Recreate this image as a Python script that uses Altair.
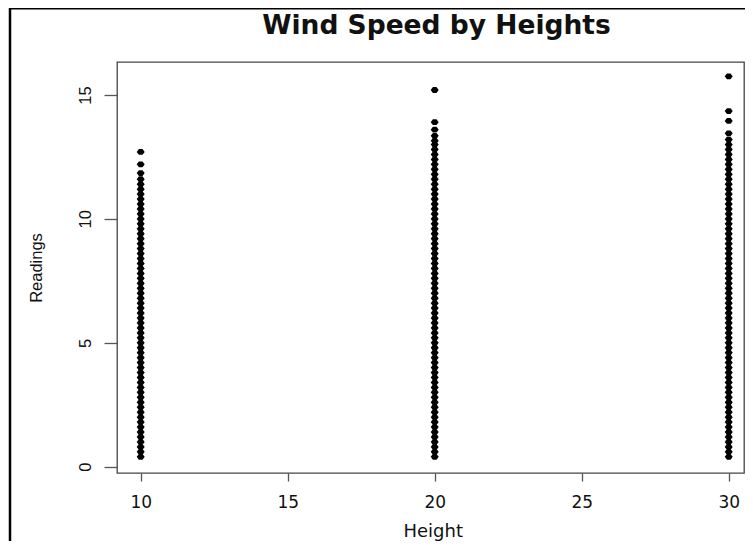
import altair as alt
import pandas as pd

# Wind speed readings, one list per height
readings_10 = [0.4, 0.6, 0.8, 1.0, 1.2, 1.4, 1.6, 1.8, 2.0, 2.2, 2.4, 2.6, 2.8, 3.0,
               3.2, 3.4, 3.6, 3.8, 4.0, 4.2, 4.4, 4.6, 4.8, 5.0, 5.2, 5.4, 5.6, 5.8,
               6.0, 6.2, 6.4, 6.6, 6.8, 7.0, 7.2, 7.4, 7.6, 7.8, 8.0, 8.2, 8.4, 8.6,
               8.8, 9.0, 9.2, 9.4, 9.6, 9.8, 10.0, 10.2, 10.4, 10.6, 10.8, 11.0,
               11.2, 11.4, 11.6, 11.85, 12.2, 12.7]
readings_20 = [0.4, 0.6, 0.8, 1.0, 1.2, 1.4, 1.6, 1.8, 2.0, 2.2, 2.4, 2.6, 2.8, 3.0,
               3.2, 3.4, 3.6, 3.8, 4.0, 4.2, 4.4, 4.6, 4.8, 5.0, 5.2, 5.4, 5.6, 5.8,
               6.0, 6.2, 6.4, 6.6, 6.8, 7.0, 7.2, 7.4, 7.6, 7.8, 8.0, 8.2, 8.4, 8.6,
               8.8, 9.0, 9.2, 9.4, 9.6, 9.8, 10.0, 10.2, 10.4, 10.6, 10.8, 11.0,
               11.2, 11.4, 11.6, 11.8, 12.0, 12.2, 12.4, 12.6, 12.8, 13.0, 13.15,
               13.35, 13.6, 13.9, 15.2]
readings_30 = [0.4, 0.6, 0.8, 1.0, 1.2, 1.4, 1.6, 1.8, 2.0, 2.2, 2.4, 2.6, 2.8, 3.0,
               3.2, 3.4, 3.6, 3.8, 4.0, 4.2, 4.4, 4.6, 4.8, 5.0, 5.2, 5.4, 5.6, 5.8,
               6.0, 6.2, 6.4, 6.6, 6.8, 7.0, 7.2, 7.4, 7.6, 7.8, 8.0, 8.2, 8.4, 8.6,
               8.8, 9.0, 9.2, 9.4, 9.6, 9.8, 10.0, 10.2, 10.4, 10.6, 10.8, 11.0,
               11.2, 11.4, 11.6, 11.8, 12.0, 12.2, 12.4, 12.6, 12.8, 13.0, 13.2,
               13.45, 13.95, 14.35, 15.75]

heights = [10, 20, 30]
x_ticks = [10, 15, 20, 25, 30]
y_ticks = [0, 5, 10, 15]
chart_title = "Wind Speed by Heights"
x_title = "Height"
y_title = "Readings"

rows = []
for h, vals in zip(heights, [readings_10, readings_20, readings_30]):
    for v in vals:
        rows.append({"Height": h, "Readings": v})
df = pd.DataFrame(rows)

W, H = 627, 411

points = alt.Chart(df).mark_point(
    shape="M-1,0L-0.45,-0.72L0.45,-0.72L1,0L0.45,0.72L-0.45,0.72Z",
    filled=True, color="black", size=64, opacity=1, strokeWidth=0
).encode(
    x=alt.X("Height:Q",
            scale=alt.Scale(domain=[9.194, 30.52], nice=False, zero=False),
            axis=alt.Axis(values=x_ticks, grid=False, domain=False,
                          tickSize=8, tickColor="#555", tickWidth=1.3,
                          labelFont="DejaVu Sans", labelFontSize=17,
                          labelColor="#111", labelBaseline="alphabetic",
                          labelPadding=26.7, labelFlush=False, labelOverlap=False,
                          title=x_title, titleFont="DejaVu Sans", titleFontSize=18,
                          titleFontWeight="normal", titleColor="#111",
                          titleX=315.7, titleY=63.5, titleAlign="center",
                          titleBaseline="alphabetic")),
    y=alt.Y("Readings:Q",
            scale=alt.Scale(domain=[-0.254, 16.33], nice=False, zero=False),
            axis=alt.Axis(values=y_ticks, grid=False, domain=False,
                          tickSize=13, tickColor="#555", tickWidth=1.3,
                          labelFont="Liberation Sans", labelFontSize=16.5,
                          labelColor="#111", labelAngle=270, labelAlign="center",
                          labelBaseline="alphabetic", labelPadding=14,
                          labelFlush=False, labelOverlap=False,
                          title=y_title, titleFont="Liberation Sans",
                          titleFontSize=16.5, titleFontWeight="normal",
                          titleColor="#111", titleAngle=270,
                          titleX=-75.5, titleY=205.5, titleAlign="center",
                          titleBaseline="alphabetic"))
)

one = pd.DataFrame({"k": [0]})

frame = alt.Chart(one).mark_rect(
    filled=False, stroke="black", strokeWidth=2.5
).encode(
    x=alt.value(-107), x2=alt.value(700), y=alt.value(-53.7), y2=alt.value(600)
)

title_mark = alt.Chart(one).mark_text(
    text=chart_title, font="DejaVu Sans", fontSize=26.5, fontWeight="bold",
    align="center", baseline="alphabetic", color="#111"
).encode(x=alt.value(319.5), y=alt.value(-28.5))

chart = alt.layer(frame, points, title_mark).properties(
    width=W, height=H,
    padding={"left": 109, "top": 54, "right": 1, "bottom": 68},
    autosize=alt.AutoSizeParams(type="none"),
    background="white",
).configure_view(stroke="#444", strokeWidth=1.3)

chart.save("out.html", embed_options={"renderer": "svg", "actions": False})
